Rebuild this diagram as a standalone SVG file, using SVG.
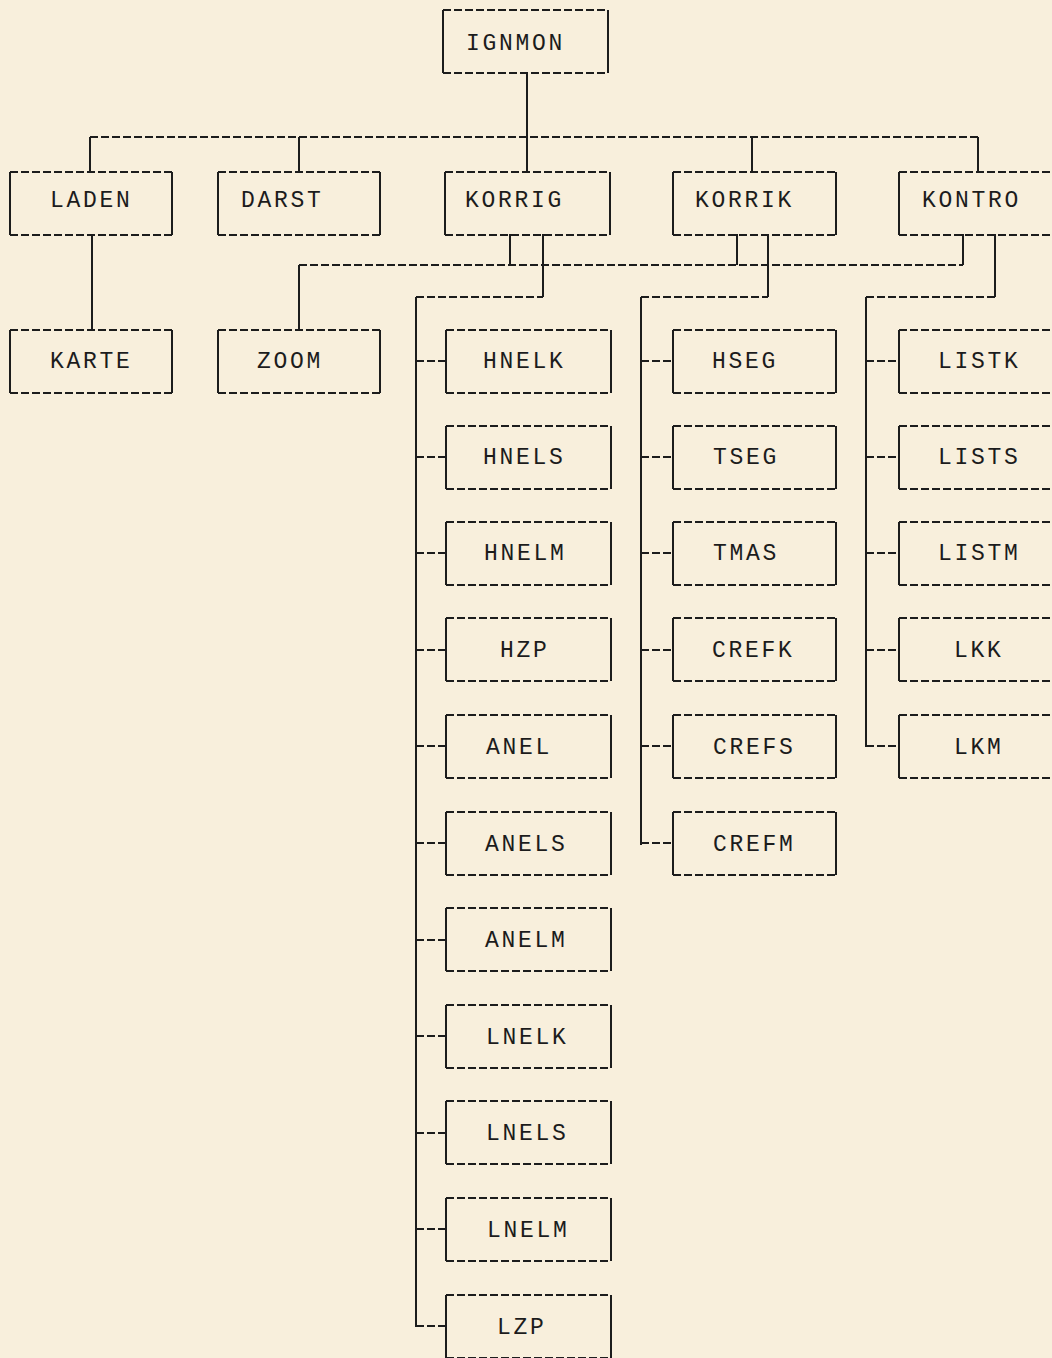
<svg xmlns="http://www.w3.org/2000/svg" width="1052" height="1358" viewBox="0 0 1052 1358">
<style>
.bg{fill:#f8efdc}
.h{stroke:#1c1c1c;stroke-width:2;stroke-dasharray:8 3;fill:none}
.v{stroke:#1c1c1c;stroke-width:2;fill:none}
text{font-family:"Liberation Mono","DejaVu Sans Mono",monospace;font-size:23px;letter-spacing:2.7px;fill:#1c1c1c}
</style>
<defs>
<g id="b165"><path class="h" d="M0 0H165M0 63H165"/><path class="v" d="M0 0V63M165 0V63"/></g>
<g id="b163"><path class="h" d="M0 0H163M0 63H163"/><path class="v" d="M0 0V63M163 0V63"/></g>
<g id="b162"><path class="h" d="M0 0H162M0 63H162"/><path class="v" d="M0 0V63M162 0V63"/></g>
<g id="b170"><path class="h" d="M0 0H170M0 63H170"/><path class="v" d="M0 0V63"/></g>
</defs>
<rect class="bg" width="1052" height="1358"/>
<g id="connectors">
<path class="v" d="M527 74V172M90 137V172M299 137V172M752 137V172M978 137V172M92 234V330"/>
<path class="h" d="M90 137H978"/>
<path class="v" d="M510 234V265M543 234V297M737 234V265M768 234V297M963 234V265M995 234V297M299 265V330"/>
<path class="h" d="M299 265H963"/>
<path class="h" d="M416 297H543M641 297H768M866 297H995"/>
<path class="v" d="M416 297V1327M641 297V845M866 297V747"/>
<path class="h" d="M416 361H446M416 457H446M416 553H446M416 650H446M416 746H446M416 843H446M416 940H446M416 1036H446M416 1133H446M416 1229H446M416 1326H446"/>
<path class="h" d="M641 361H673M641 457H673M641 553H673M641 650H673M641 746H673M641 843H673"/>
<path class="h" d="M866 361H899M866 457H899M866 553H899M866 650H899M866 746H899"/>
</g>
<g id="IGNMON"><use href="#b165" transform="translate(443,10)"/><text x="466" y="50">IGNMON</text></g>
<g id="LADEN"><use href="#b162" transform="translate(10,172)"/><text x="50" y="207">LADEN</text></g>
<g id="DARST"><use href="#b162" transform="translate(218,172)"/><text x="241" y="207">DARST</text></g>
<g id="KORRIG"><use href="#b165" transform="translate(445,172)"/><text x="465" y="207">KORRIG</text></g>
<g id="KORRIK"><use href="#b163" transform="translate(673,172)"/><text x="695" y="207">KORRIK</text></g>
<g id="KONTRO"><use href="#b170" transform="translate(899,172)"/><text x="922" y="207">KONTRO</text></g>
<g id="KARTE"><use href="#b162" transform="translate(10,330)"/><text x="50" y="368">KARTE</text></g>
<g id="ZOOM"><use href="#b162" transform="translate(218,330)"/><text x="257" y="368">ZOOM</text></g>
<g id="HNELK"><use href="#b165" transform="translate(446,330)"/><text x="483" y="368">HNELK</text></g>
<g id="HNELS"><use href="#b165" transform="translate(446,426)"/><text x="483" y="464">HNELS</text></g>
<g id="HNELM"><use href="#b165" transform="translate(446,522)"/><text x="484" y="560">HNELM</text></g>
<g id="HZP"><use href="#b165" transform="translate(446,618)"/><text x="500" y="657">HZP</text></g>
<g id="ANEL"><use href="#b165" transform="translate(446,715)"/><text x="486" y="754">ANEL</text></g>
<g id="ANELS"><use href="#b165" transform="translate(446,812)"/><text x="485" y="851">ANELS</text></g>
<g id="ANELM"><use href="#b165" transform="translate(446,908)"/><text x="485" y="947">ANELM</text></g>
<g id="LNELK"><use href="#b165" transform="translate(446,1005)"/><text x="486" y="1044">LNELK</text></g>
<g id="LNELS"><use href="#b165" transform="translate(446,1101)"/><text x="486" y="1140">LNELS</text></g>
<g id="LNELM"><use href="#b165" transform="translate(446,1198)"/><text x="487" y="1237">LNELM</text></g>
<g id="LZP"><use href="#b165" transform="translate(446,1295)"/><text x="497" y="1334">LZP</text></g>
<g id="HSEG"><use href="#b163" transform="translate(673,330)"/><text x="712" y="368">HSEG</text></g>
<g id="TSEG"><use href="#b163" transform="translate(673,426)"/><text x="713" y="464">TSEG</text></g>
<g id="TMAS"><use href="#b163" transform="translate(673,522)"/><text x="713" y="560">TMAS</text></g>
<g id="CREFK"><use href="#b163" transform="translate(673,618)"/><text x="712" y="657">CREFK</text></g>
<g id="CREFS"><use href="#b163" transform="translate(673,715)"/><text x="713" y="754">CREFS</text></g>
<g id="CREFM"><use href="#b163" transform="translate(673,812)"/><text x="713" y="851">CREFM</text></g>
<g id="LISTK"><use href="#b170" transform="translate(899,330)"/><text x="938" y="368">LISTK</text></g>
<g id="LISTS"><use href="#b170" transform="translate(899,426)"/><text x="938" y="464">LISTS</text></g>
<g id="LISTM"><use href="#b170" transform="translate(899,522)"/><text x="938" y="560">LISTM</text></g>
<g id="LKK"><use href="#b170" transform="translate(899,618)"/><text x="954" y="657">LKK</text></g>
<g id="LKM"><use href="#b170" transform="translate(899,715)"/><text x="954" y="754">LKM</text></g>
</svg>
